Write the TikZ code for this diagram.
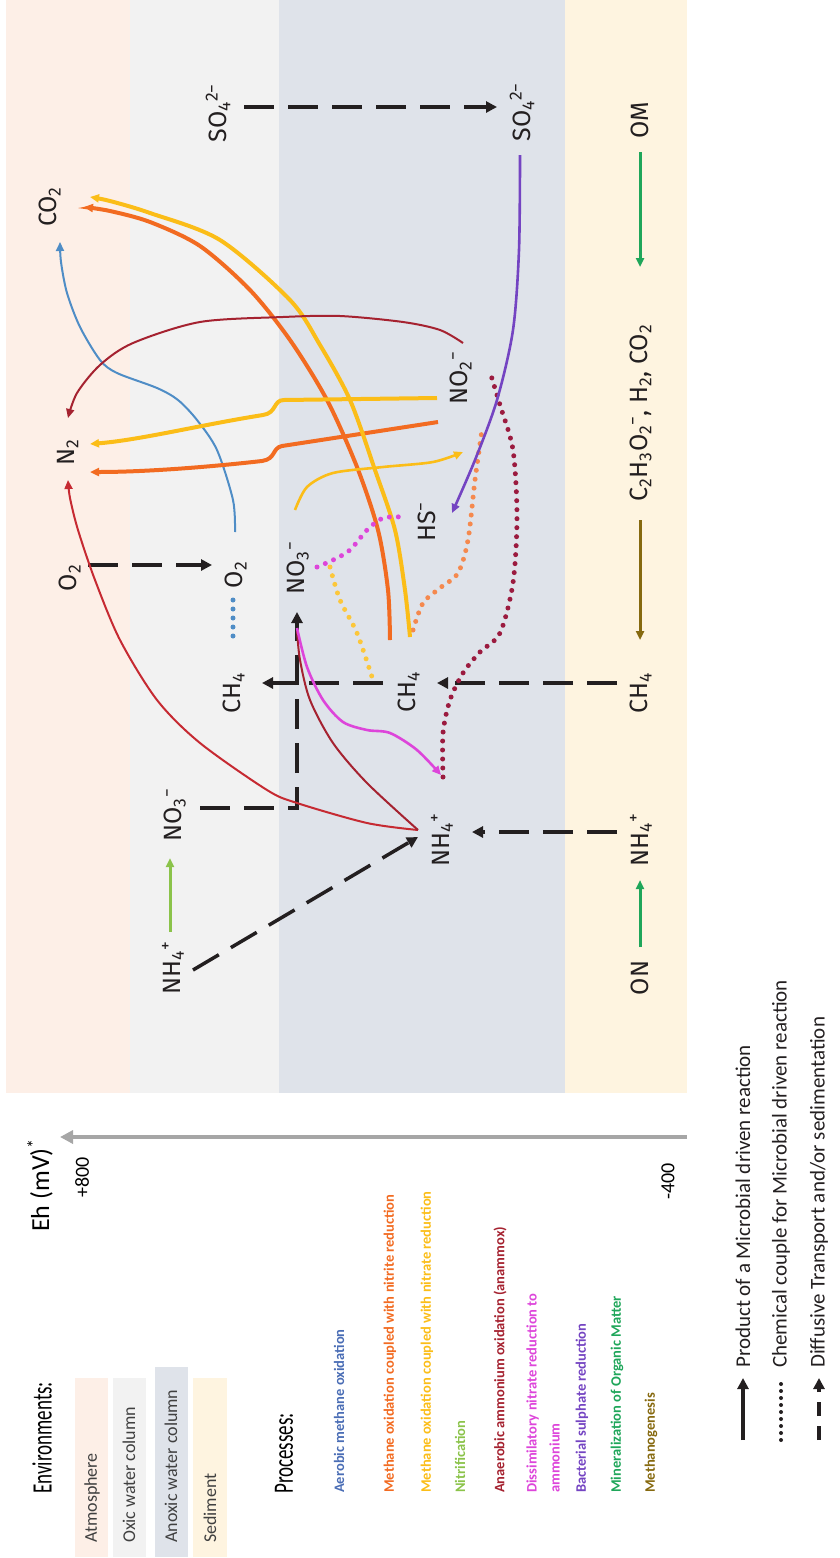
\documentclass[tikz,border=0pt]{standalone}
\usepackage{fontspec}
\setmainfont{Carlito}
\newfontfamily\chem{Fira Sans}
\usetikzlibrary{arrows.meta}
\definecolor{atm}{HTML}{FDEFE7}
\definecolor{oxic}{HTML}{F2F2F2}
\definecolor{anox}{HTML}{DFE3EA}
\definecolor{sed}{HTML}{FEF4E0}
\definecolor{cblue}{HTML}{4F8DC6}
\definecolor{tblue}{HTML}{4A6DB5}
\definecolor{corange}{HTML}{F26B21}
\definecolor{cyellow}{HTML}{FBBD18}
\definecolor{cnitr}{HTML}{8BC34A}
\definecolor{cred}{HTML}{C62A32}
\definecolor{cdred}{HTML}{A52230}
\definecolor{cdot}{HTML}{9B1B3F}
\definecolor{cmag}{HTML}{DD45DA}
\definecolor{cpurp}{HTML}{7444C2}
\definecolor{cmin}{HTML}{1FA65A}
\definecolor{cmeth}{HTML}{86690F}
\definecolor{laxis}{HTML}{A6A6A6}
\definecolor{ink}{HTML}{231F20}
\begin{document}
\begin{tikzpicture}[x=1pt,y=-1pt,
  lab/.style={font=\chem\fontsize{25}{27}\selectfont, rotate=90, inner sep=0pt, text=ink},
  leg/.style={rotate=90, anchor=west, inner sep=0pt},
  proc/.style={leg, font=\bfseries\fontsize{14.5}{23}\selectfont, align=left},
  envt/.style={leg, font=\fontsize{18}{20}\selectfont, text=black!75},
  lgt/.style={leg, font=\fontsize{21}{23}\selectfont, text=ink},
  tipc/.style={-{Triangle[length=9pt,width=8pt]}},
  diff/.style={ink, line width=3.5pt, dash pattern=on 30pt off 14pt, -{Triangle[length=11pt,width=11pt]}},
  dots/.style={line width=5pt, dash pattern=on 0pt off 9pt, line cap=round},
  thick1/.style={line width=2pt},
  thick2/.style={line width=2.6pt},
  thick3/.style={line width=4pt}]
\useasboundingbox (0,0) rectangle (840,1558);
% environment bands
\fill[atm] (6,0) rectangle (130,1093);
\fill[oxic] (130,0) rectangle (279,1093);
\fill[anox] (279,0) rectangle (565,1093);
\fill[sed] (565,0) rectangle (687,1093);

% chemical labels
\node[lab] (co2) at (50,207) {CO\textsubscript{2}};
\node[lab] (n2) at (68,452) {N\textsubscript{2}};
\node[lab] (o2a) at (70,578) {O\textsubscript{2}};
\node[lab] (o2b) at (236,575) {O\textsubscript{2}};
\node[lab] (no3a) at (175,815) {NO\textsubscript{3}\textsuperscript{−}};
\node[lab] (nh4a) at (173,968) {NH\textsubscript{4}\textsuperscript{+}};
\node[lab] (ch4a) at (234,693) {CH\textsubscript{4}};
\node[lab] (no3b) at (298,568) {NO\textsubscript{3}\textsuperscript{−}};
\node[lab] (ch4b) at (409,692) {CH\textsubscript{4}};
\node[lab] (hs) at (427,522) {HS\textsuperscript{−}};
\node[lab] (no2) at (461,378) {NO\textsubscript{2}\textsuperscript{−}};
\node[lab] (nh4b) at (442,840) {NH\textsubscript{4}\textsuperscript{+}};
\node[lab] (so4a) at (218,113) {SO\textsubscript{4}\textsuperscript{2−}};
\node[lab] (so4b) at (522,112) {SO\textsubscript{4}\textsuperscript{2−}};
\node[lab] (om) at (640,120) {OM};
\node[lab] (ace) at (641,413) {C\textsubscript{2}H\textsubscript{3}O\textsubscript{2}\textsuperscript{−}, H\textsubscript{2}, CO\textsubscript{2}};
\node[lab] (ch4c) at (641,693) {CH\textsubscript{4}};
\node[lab] (nh4c) at (641,840) {NH\textsubscript{4}\textsuperscript{+}};
\node[lab] (on) at (640,978) {ON};

% endpoint coordinates
\coordinate (so4aE) at (244,107);  \coordinate (so4bW) at (497,107);
\coordinate (o2aE) at (88,565);    \coordinate (o2bW) at (212,565);
\coordinate (ch4cW) at (617,683);  \coordinate (ch4bE) at (437,683);
\coordinate (ch4bW) at (383,683);  \coordinate (ch4aE) at (262,683);
\coordinate (nh4cW) at (617,832);  \coordinate (nh4bE) at (472,832);
\coordinate (nh4aE) at (193,970);  \coordinate (nh4bW) at (418,837);
\coordinate (no3aE) at (200,808);  \coordinate (corner) at (297,808);
\coordinate (no3bS) at (297,612);
\coordinate (nh4aT) at (170,932);  \coordinate (no3aB) at (170,858);
\coordinate (omB) at (640,152);    \coordinate (aceT) at (640,267);
\coordinate (aceB) at (640,520);   \coordinate (ch4cT) at (640,640);
\coordinate (onT) at (640,947);    \coordinate (nh4cB) at (640,880);

% diffusive transport
\draw[diff] (so4aE) -- (so4bW);
\draw[diff] (o2aE) -- (o2bW);
\draw[diff] (ch4cW) -- (ch4bE);
\draw[diff] (ch4bW) -- (ch4aE);
\draw[diff] (nh4cW) -- (nh4bE);
\draw[diff] (nh4aE) -- (nh4bW);
\draw[diff] (no3aE) -- (corner) -- (no3bS);

% sediment processes
\draw[cmin, line width=3pt, tipc] (omB) -- (aceT);
\draw[cmin, line width=3pt, tipc] (onT) -- (nh4cB);
\draw[cmeth, line width=3pt, tipc] (aceB) -- (ch4cT);
% nitrification
\draw[cnitr, line width=3pt, tipc] (nh4aT) -- (no3aB);

% aerobic methane oxidation
\draw[cblue, thick1, tipc] plot[smooth] coordinates {(235,532) (233,500) (217,450) (197,420) (178,400) (157,388) (117,373) (100,360) (80,327) (67,293) (61,262) (60,242)};
\draw[cblue, dots] (233,600) -- (233,640);

% methane oxidation with nitrite (orange)
\draw[corange, thick3, tipc] plot[smooth] coordinates {(390,640) (388,590) (378,530) (357,467) (327,400) (290,340) (250,290) (200,246) (150,222) (110,211) (84,207)};
\draw[corange, thick3, tipc] (438,422) -- (282,446) .. controls (272,448) and (276,459) .. (262,461) .. controls (200,468) and (140,472) .. (90,472);
\draw[corange!80, dots] plot[smooth] coordinates {(413,630) (423,603) (440,588) (458,573) (468,540) (475,480) (482,430)};

% methane oxidation with nitrate (yellow)
\draw[cyellow, thick3, tipc] plot[smooth] coordinates {(410,637) (405,590) (395,530) (375,470) (350,400) (320,345) (290,300) (220,240) (150,213) (110,201) (90,197)};
\draw[cyellow, thick3, tipc] (437,398) -- (284,400) .. controls (273,400) and (277,413) .. (263,415) .. controls (200,425) and (140,440) .. (90,444);
\draw[cyellow, thick2, tipc] plot[smooth] coordinates {(295,510) (307,487) (333,473) (383,467) (433,462) (463,452)};
\draw[cyellow!85!white, dots] plot[smooth] coordinates {(330,567) (340,600) (357,633) (372,677)};

% anammox
\draw[cred, thick1, tipc] plot[smooth] coordinates {(418,830) (367,823) (297,803) (267,790) (200,743) (157,700) (120,640) (95,580) (78,530) (70,498) (68,480)};
\draw[cdred, thick1] plot[smooth] coordinates {(418,830) (367,783) (333,743) (310,700) (300,660) (297,630)};
\draw[cdred, thick1, tipc] plot[smooth] coordinates {(463,343) (440,330) (403,322) (340,316) (283,317) (200,322) (133,343) (100,365) (77,393) (68,418)};
\draw[cdot, dots] plot[smooth] coordinates {(443,777) (443,733) (450,700) (463,673) (480,652) (500,633) (513,583) (517,517) (513,450) (500,405) (490,372)};

% DNRA
\draw[cmag, thick2, tipc] plot[smooth] coordinates {(297,628) (307,667) (323,700) (343,722) (367,730) (390,733) (417,750) (441,775)};
\draw[cmag, dots] plot[smooth] coordinates {(317,567) (333,560) (350,550) (367,530) (383,518) (403,517)};

% sulphate reduction
\draw[cpurp, thick2, tipc] plot[smooth] coordinates {(520,155) (519,250) (513,330) (497,400) (475,460) (452,513)};

% Eh axis
\coordinate (axR) at (687,1137); \coordinate (axL) at (60,1137);
\draw[laxis, line width=4pt, -{Triangle[length=13pt,width=13pt]}] (axR) -- (axL);
\node[leg, font=\fontsize{26}{28}\selectfont] (eh) at (40,1232) {Eh (mV)\textsuperscript{*}};
\node[leg, font=\fontsize{20}{22}\selectfont] (p800) at (82,1198) {+800};
\node[leg, font=\fontsize{20}{22}\selectfont] (m400) at (668,1200) {-400};

% legend: environments
\node[leg, font=\fontsize{28}{30}\selectfont] (envh) at (42,1494) {\scalebox{0.68}[1]{Environments:}};
\fill[atm] (75,1378) rectangle (108,1557);
\fill[oxic] (113,1378) rectangle (146,1557);
\fill[anox] (155,1367) rectangle (188,1557);
\fill[sed] (193,1378) rectangle (227,1557);
\node[envt] (e1) at (92,1543) {Atmosphere};
\node[envt] (e2) at (129,1543) {Oxic water column};
\node[envt] (e3) at (171,1543) {Anoxic water column};
\node[envt] (e4) at (210,1543) {Sediment};

% legend: processes
\node[leg, font=\fontsize{28}{30}\selectfont] (proch) at (284,1494) {\scalebox{0.68}[1]{Processes:}};
\node[proc, text=tblue] (p1) at (339,1493) {Aerobic methane oxidation};
\node[proc, text=corange] (p2) at (390,1493) {Methane oxidation coupled with nitrite reduction};
\node[proc, text=cyellow] (p3) at (427,1493) {Methane oxidation coupled with nitrate reduction};
\node[proc, text=cnitr] (p4) at (460,1493) {Nitrification};
\node[proc, text=cdred] (p5) at (500,1493) {Anaerobic ammonium oxidation (anammox)};
\node[proc, text=cmag] (p6) at (543,1493) {Dissimilatory nitrate reduction to\\ammonium};
\node[proc, text=cpurp] (p7) at (582,1493) {Bacterial sulphate reduction};
\node[proc, text=cmin] (p8) at (617,1493) {Mineralization of Organic Matter};
\node[proc, text=cmeth] (p9) at (651,1493) {Methanogenesis};

% legend: line types
\coordinate (l1a) at (743,1440); \coordinate (l1b) at (743,1378);
\coordinate (l2a) at (781,1440); \coordinate (l2b) at (781,1382);
\coordinate (l3a) at (819,1440); \coordinate (l3b) at (819,1378);
\draw[ink, line width=3.5pt, -{Triangle[length=11pt,width=11pt]}] (l1a) -- (l1b);
\draw[ink, line width=4pt, dash pattern=on 0pt off 7pt, line cap=round] (l2a) -- (l2b);
\draw[ink, line width=3.5pt, dash pattern=on 14pt off 10pt, -{Triangle[length=11pt,width=11pt]}] (l3a) -- (l3b);
\node[lgt] (t1) at (743,1368) {Product of a Microbial driven reaction};
\node[lgt] (t2) at (781,1368) {Chemical couple for Microbial driven reaction};
\node[lgt] (t3) at (819,1368) {Diffusive Transport and/or sedimentation};
\end{tikzpicture}
\end{document}
